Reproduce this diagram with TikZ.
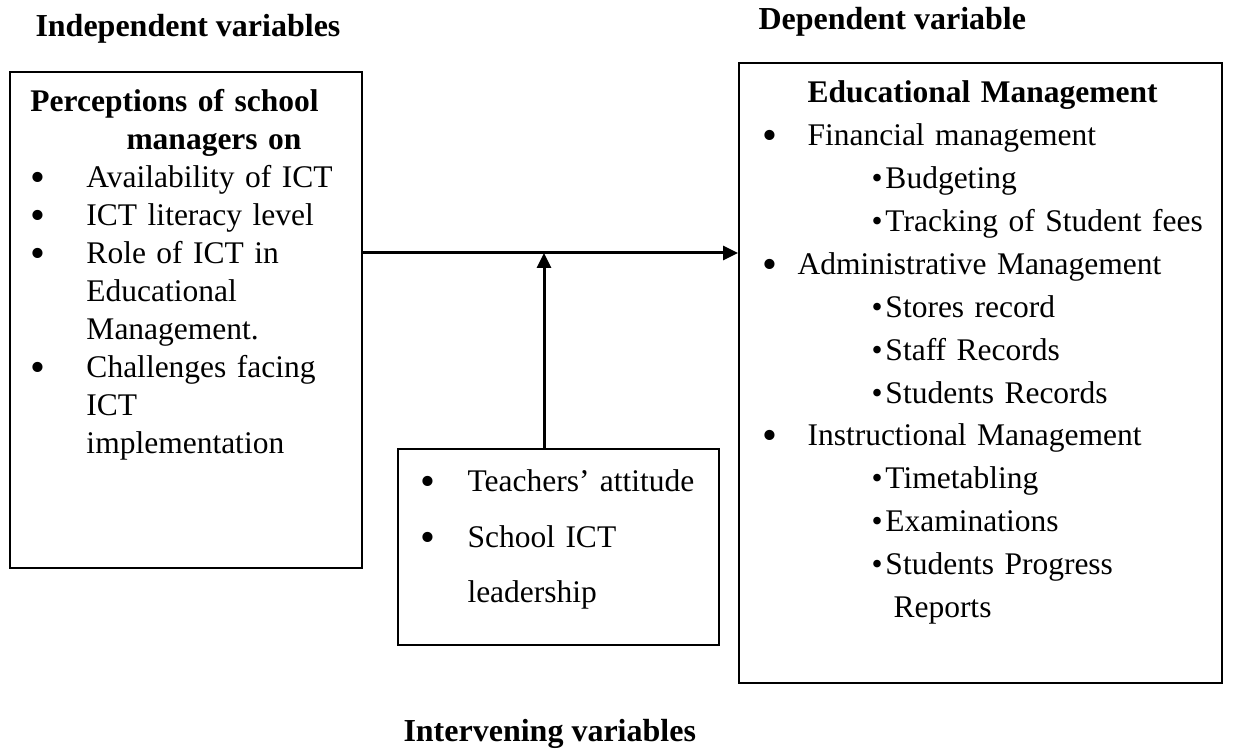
\documentclass[tikz,border=0pt]{standalone}
\usepackage{fontspec}
\setmainfont{Liberation Serif}
\usetikzlibrary{arrows.meta,positioning}

\newcommand{\dotmark}{\smash{\raisebox{-1.6pt}{\fontsize{17}{17}\selectfont\textbullet}}}
\newcommand{\bul}[1]{\makebox[#1][l]{\dotmark}}
\newcommand{\subbul}[1]{\hspace*{#1}\makebox[5.6pt][l]{\textbullet}}

\begin{document}
\begin{tikzpicture}[
  x=0.4pt, y=-0.4pt,
  every node/.style={align=left, inner sep=0pt},
  box/.style={rectangle, draw, line width=0.8pt},
  txt/.style={anchor=base west},
  heading/.style={anchor=base west, font=\fontsize{12.8}{14}\selectfont\bfseries},
  arrow/.style={-{Triangle[length=6pt,width=5.6pt]}, line width=1.2pt}
]

\useasboundingbox (0,0) rectangle (1233,750);

% Headings
\node[heading] (indephead) at (35,37) {Independent variables};
\node[heading] (dephead) at (758,30) {Dependent variable};
\node[heading] (intervhead) at (403,742) {Intervening variables};

% Boxes
\node[box, minimum width=140.8pt, minimum height=198.4pt] (indep) at (186,320) {};
\node[box, minimum width=193.2pt, minimum height=248pt] (dep) at (980.5,373) {};
\node[box, minimum width=128.4pt, minimum height=78.4pt] (interv) at (558.5,547) {};

% Left box: independent variables
\node[txt, text width=135pt, font=\fontsize{12.6}{15.2}\selectfont] (indeptext) at (30,112) {
  \textbf{Perceptions of school}\\
  \hspace*{38.4pt}\textbf{managers on}\\
  \bul{22.4pt}Availability of ICT\\
  \bul{22.4pt}ICT literacy level\\
  \bul{22.4pt}Role of ICT in\\
  \hspace*{22.4pt}Educational\\
  \hspace*{22.4pt}Management.\\
  \bul{22.4pt}Challenges facing\\
  \hspace*{22.4pt}ICT\\
  \hspace*{22.4pt}implementation
};

% Middle box: intervening variables
\node[txt, text width=122pt, font=\fontsize{12.6}{22.2}\selectfont] (intervtext) at (420,492) {
  \bul{18.8pt}Teachers’ attitude\\
  \bul{18.8pt}School ICT\\
  \hspace*{18.8pt}leadership
};

% Right box: dependent variable
\node[txt, text width=188pt, font=\fontsize{12.6}{17.15}\selectfont] (deptext) at (762,103) {
  \hspace*{18pt}\textbf{Educational Management}\\
  \bul{18pt}Financial management\\
  \subbul{43.6pt}Budgeting\\
  \subbul{43.6pt}Tracking of Student fees\\
  \bul{14pt}Administrative Management\\
  \subbul{43.6pt}Stores record\\
  \subbul{43.6pt}Staff Records\\
  \subbul{43.6pt}Students Records\\
  \bul{18pt}Instructional Management\\
  \subbul{43.6pt}Timetabling\\
  \subbul{43.6pt}Examinations\\
  \subbul{43.6pt}Students Progress\\
  \hspace*{52.4pt}Reports
};

% Arrows
\coordinate (link) at (0,253);
\draw[arrow] (indep.east |- link) -- (dep.west |- link);
\draw[arrow] ([xshift=-5.8pt]interv.north) -- ([xshift=-5.8pt]interv.north |- link);

\end{tikzpicture}
\end{document}
